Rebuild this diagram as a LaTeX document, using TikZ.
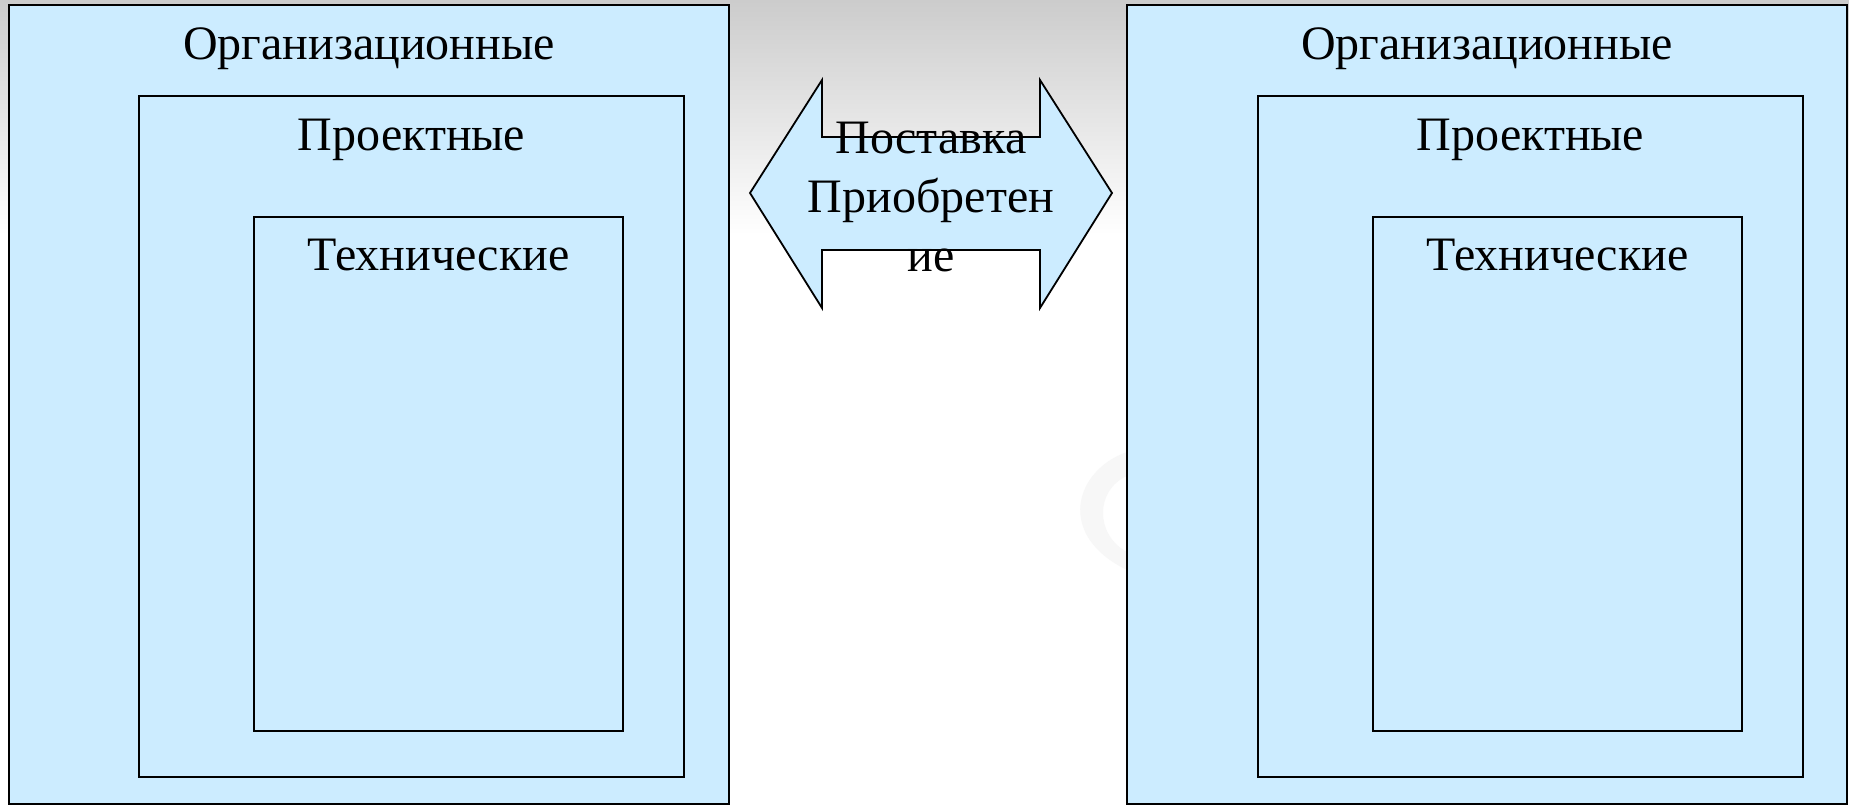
\documentclass[tikz,border=0pt]{standalone}
\usepackage{fontspec}
\setmainfont{Liberation Serif}
\definecolor{boxblue}{RGB}{204,236,255}
\tikzset{
	box/.style={draw=black, line width=0.9pt, fill=boxblue},
	lbl/.style={anchor=base, inner sep=0pt, font=\fontsize{24}{28.5}\selectfont}
}
\begin{document}
\begin{tikzpicture}[x=0.5pt, y=-0.5pt]
		\useasboundingbox ( 0, 0 ) rectangle ( 1849, 806 );
		% фон
		\fill [white] ( 0, 0 ) rectangle ( 1849, 806 );
		\shade [top color=black!20, bottom color=white] ( 0, 0 ) rectangle ( 1849, 235 );
		\fill [black!3] ( 1127, 452 ) .. controls ( 1075, 470 ) and ( 1055, 535 ) .. ( 1127, 570 ) -- ( 1127, 552 ) .. controls ( 1095, 535 ) and ( 1095, 490 ) .. ( 1127, 476 ) -- cycle;

		% левая группа
		\draw [box] ( 9, 5 ) rectangle ( 729, 804 );
		\node [lbl] (orgL) at ( 369, 60 ) {Организационные};
		\draw [box] ( 139, 96 ) rectangle ( 684, 777 );
		\node [lbl] (projL) at ( 411.5, 151 ) {Проектные};
		\draw [box] ( 254, 217 ) rectangle ( 623, 731 );
		\node [lbl] (techL) at ( 438.5, 271 ) {Технические};

		% правая группа
		\draw [box] ( 1127, 5 ) rectangle ( 1847, 804 );
		\node [lbl] (orgR) at ( 1487, 60 ) {Организационные};
		\draw [box] ( 1258, 96 ) rectangle ( 1803, 777 );
		\node [lbl] (projR) at ( 1530.5, 151 ) {Проектные};
		\draw [box] ( 1373, 217 ) rectangle ( 1742, 731 );
		\node [lbl] (techR) at ( 1557.5, 271 ) {Технические};

		% стрелка
		\draw [box] ( 750, 193 ) -- ( 822, 80 ) -- ( 822, 137 ) -- ( 1040, 137 ) -- ( 1040, 80 ) -- ( 1112, 193 ) -- ( 1040, 308 ) -- ( 1040, 250 ) -- ( 822, 250 ) -- ( 822, 308 ) -- cycle;
		\node [lbl, align=center, font=\fontsize{24}{29.5}\selectfont] (post) at ( 931, 272 ) {Поставка\\Приобретен\\ие};
	\end{tikzpicture}
\end{document}
